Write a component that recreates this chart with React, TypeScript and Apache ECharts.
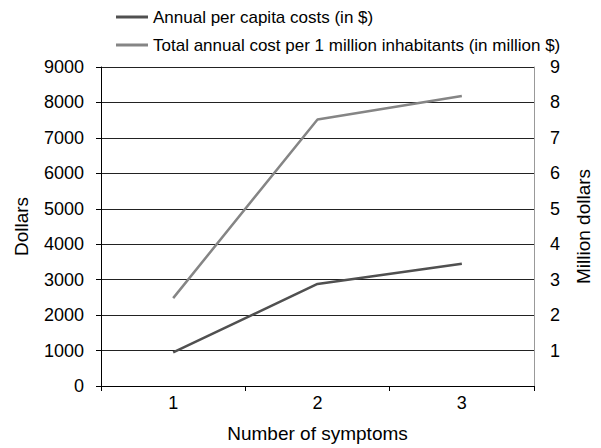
import React, { useEffect, useRef } from "react";
import * as echarts from "echarts";

const categories = ["1", "2", "3"];
const perCapitaCosts = [950, 2880, 3450];
const totalCostPerMillion = [2.48, 7.52, 8.18];
const seriesNames = [
  "Annual per capita costs (in $)",
  "Total annual cost per 1 million inhabitants (in million $)",
];

export default function App() {
  const ref = useRef<HTMLDivElement>(null);
  useEffect(() => {
    if (!ref.current) return;
    const chart = echarts.init(ref.current, null, { renderer: "svg" });
    const font = "Liberation Sans, Arial, sans-serif";
    chart.setOption({
      animation: false,
      backgroundColor: "#fff",
      textStyle: { fontFamily: font },
      legend: {
        orient: "vertical",
        left: 111,
        top: 2,
        icon: "rect",
        itemWidth: 32,
        itemHeight: 3,
        itemGap: 8,
        textStyle: { fontSize: 17, color: "#000", fontFamily: font, lineHeight: 20 },
        data: seriesNames,
      },
      grid: { left: 101, right: 58, top: 67, bottom: 58 },
      xAxis: {
        type: "category",
        data: categories,
        boundaryGap: true,
        name: "Number of symptoms",
        nameLocation: "middle",
        nameGap: 38,
        nameTextStyle: { fontSize: 19, color: "#000" },
        axisLine: { lineStyle: { color: "#000", width: 1 } },
        axisTick: { show: true, length: 5, lineStyle: { color: "#000" } },
        axisLabel: { fontSize: 18, color: "#000", margin: 8 },
      },
      yAxis: [
        {
          type: "value",
          min: 0,
          max: 9000,
          interval: 1000,
          name: "Dollars",
          nameLocation: "middle",
          nameGap: 70,
          nameTextStyle: { fontSize: 19, color: "#000" },
          axisLine: { show: true, lineStyle: { color: "#000" } },
          axisTick: { show: true, length: 5, lineStyle: { color: "#000" } },
          axisLabel: {
            fontSize: 18,
            color: "#000",
            margin: 17,
            formatter: (v: number) => String(v),
          },
          splitLine: { show: true, lineStyle: { color: "#222", width: 1 } },
        },
        {
          type: "value",
          min: 0,
          max: 9,
          interval: 1,
          position: "right",
          name: "Million dollars",
          nameLocation: "middle",
          nameGap: 40,
          nameTextStyle: { fontSize: 19, color: "#000" },
          axisLine: { show: true, lineStyle: { color: "#999" } },
          axisTick: { show: false },
          axisLabel: { fontSize: 18, color: "#000", margin: 16, showMinLabel: false },
          splitLine: { show: false },
        },
      ],
      series: [
        {
          name: seriesNames[0],
          type: "line",
          data: perCapitaCosts,
          yAxisIndex: 0,
          symbol: "none",
          lineStyle: { color: "#505050", width: 2.5 },
          itemStyle: { color: "#505050" },
        },
        {
          name: seriesNames[1],
          type: "line",
          data: totalCostPerMillion,
          yAxisIndex: 1,
          symbol: "none",
          lineStyle: { color: "#858585", width: 2.5 },
          itemStyle: { color: "#858585" },
        },
      ],
    });
    return () => chart.dispose();
  }, []);
  return <div ref={ref} style={{ width: 601, height: 448, position: "absolute", left: 0, top: 0 }} />;
}
